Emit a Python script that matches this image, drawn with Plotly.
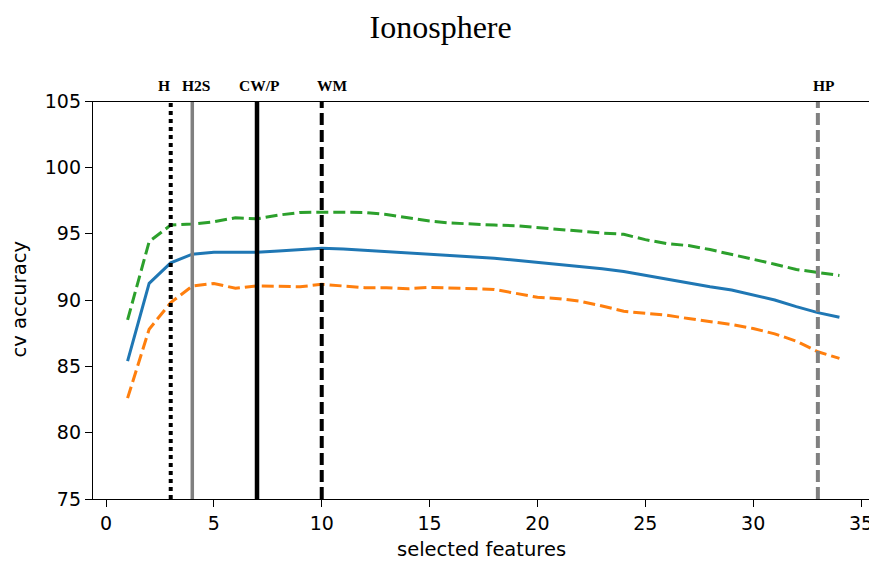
import plotly.graph_objects as go

# ---- data ----
features = list(range(1, 35))
mean_acc = [85.4, 91.25, 92.8, 93.45, 93.6, 93.6, 93.6, 93.7, 93.78, 93.9,
            93.85, 93.75, 93.7, 93.6, 93.45, 93.35, 93.25, 93.15, 93.0, 92.85,
            92.7, 92.55, 92.35, 92.15, 91.85, 91.55, 91.3, 91.0, 90.75, 90.4,
            90.0, 89.5, 89.05, 88.7]
upper_acc = [88.5, 94.4, 95.65, 95.72, 95.9, 96.2, 96.12, 96.4, 96.6, 96.62,
             96.62, 96.6, 96.45, 96.2, 95.95, 95.8, 95.7, 95.65, 95.6, 95.45,
             95.35, 95.2, 95.05, 94.95, 94.55, 94.25, 94.1, 93.8, 93.45, 93.1,
             92.7, 92.3, 92.05, 91.85]
lower_acc = [82.6, 87.8, 89.8, 91.05, 91.25, 90.88, 91.07, 91.05, 91.0, 91.18,
             91.05, 90.93, 90.93, 90.85, 90.95, 90.9, 90.85, 90.8, 90.5, 90.2,
             90.1, 89.9, 89.55, 89.15, 89.0, 88.85, 88.6, 88.4, 88.15, 87.85,
             87.45, 86.9, 86.1, 85.6]

method_names = ["H", "H2S", "CW/P", "WM", "HP"]
method_positions = [3, 4, 7, 10, 33]
method_label_x = [2.7, 4.17, 7.11, 10.52, 33.29]
method_colors = ["#000000", "#808080", "#000000", "#000000", "#808080"]
method_dashes = ["4px,4px", "solid", "solid", "12px,5px", "12px,5px"]
method_widths = [4, 3.5, 4.5, 4, 4]

x_ticks = [0, 5, 10, 15, 20, 25, 30, 35]
y_ticks = [75, 80, 85, 90, 95, 100, 105]
y_min, y_max = 75, 105

fig = go.Figure()

fig.add_trace(go.Scatter(x=features, y=upper_acc, mode="lines",
                         line=dict(color="#2ca02c", width=3, dash="12px,5px"),
                         showlegend=False))
fig.add_trace(go.Scatter(x=features, y=lower_acc, mode="lines",
                         line=dict(color="#ff7f0e", width=3, dash="12px,5px"),
                         showlegend=False))
fig.add_trace(go.Scatter(x=features, y=mean_acc, mode="lines",
                         line=dict(color="#1f77b4", width=3),
                         showlegend=False))

for name, pos, lx, col, dsh, w in zip(method_names, method_positions, method_label_x,
                                      method_colors, method_dashes, method_widths):
    fig.add_trace(go.Scatter(x=[pos, pos], y=[y_min, y_max], mode="lines",
                             line=dict(color=col, width=w, dash=dsh),
                             showlegend=False, hoverinfo="skip"))
    fig.add_annotation(x=lx, y=1.04, xref="x", yref="paper", text="<b>%s</b>" % name,
                       showarrow=False, xanchor="center", yanchor="middle",
                       font=dict(family="Liberation Serif", size=15.5, color="black"))

# top line
fig.add_shape(type="line", xref="paper", yref="y", x0=0, x1=1, y0=y_max, y1=y_max,
              line=dict(color="black", width=2), layer="above")

# axis titles
fig.add_annotation(text="selected features", x=0.5, y=-0.128, xref="paper", yref="paper",
                   showarrow=False, xanchor="center", yanchor="middle",
                   font=dict(family="DejaVu Sans", size=19.5, color="black"))
fig.add_annotation(text="cv accuracy", x=-0.096, y=0.5, xref="paper", yref="paper",
                   showarrow=False, xanchor="center", yanchor="middle", textangle=-90,
                   font=dict(family="DejaVu Sans", size=19.5, color="black"))

fig.update_layout(
    width=869, height=563,
    margin=dict(l=93, r=0, t=101, b=64, autoexpand=False),
    plot_bgcolor="white", paper_bgcolor="white",
    font=dict(family="DejaVu Sans", size=19, color="black"),
    title=dict(text="Ionosphere", x=0.448, xanchor="center", xref="paper",
               y=1 - 27 / 563, yref="container", yanchor="middle",
               font=dict(family="Liberation Serif", size=32, color="black")),
    xaxis=dict(range=[-0.603, 35.37], tickvals=x_ticks, showgrid=False, zeroline=False,
               showline=True, linecolor="black", linewidth=1.3, automargin=False,
               ticklabeloverflow="allow",
               ticks="outside", ticklen=7, tickcolor="black", tickwidth=1.3),
    yaxis=dict(range=[y_min, y_max], tickvals=y_ticks, showgrid=False, zeroline=False,
               showline=True, linecolor="black", linewidth=1.3, automargin=False,
               ticklabeloverflow="allow",
               ticks="outside", ticklen=7, tickcolor="black", tickwidth=1.3),
)

fig.write_html("out.html", config={"displayModeBar": False},
               post_script="document.body.style.margin='0';document.body.style.overflow='hidden';")
